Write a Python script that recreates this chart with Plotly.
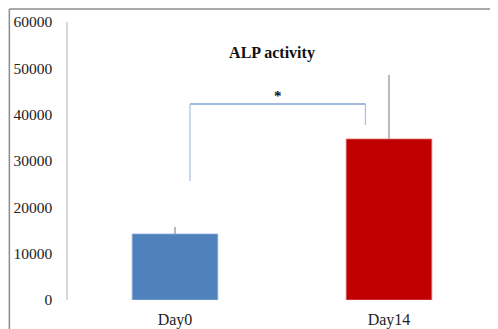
import plotly.graph_objects as go

categories = ["Day0", "Day14"]
values = [14250, 34750]
errors_up = [1500, 13800]
bar_colors = ["#4f81bd", "#c00000"]
y_ticks = [0, 10000, 20000, 30000, 40000, 50000, 60000]

# significance bracket (data units)
bracket_x = [0.07, 0.89]
bracket_top = 42300
bracket_left_bottom = 25700
bracket_right_bottom = 37800
sig_label = "*"

W, H = 490, 321  # page body has an 8px margin

fig = go.Figure()
fig.add_trace(go.Bar(
    x=[0, 1], y=values,
    marker=dict(color=bar_colors, line=dict(color=["#8fb0d8", "#e07070"], width=0.8)),
    width=0.4,
    error_y=dict(type="data", symmetric=False, array=errors_up, arrayminus=[0, 0],
                 color="#8c8c8c", thickness=1.2, width=0),
    showlegend=False,
))

serif = "Liberation Serif, Times New Roman, serif"
bcol = "#a9c4e6"
fig.add_shape(type="line", xref="x", yref="y", x0=bracket_x[0], x1=bracket_x[1],
              y0=bracket_top, y1=bracket_top, line=dict(color="#7fa3d0", width=1.3))
fig.add_shape(type="line", xref="x", yref="y", x0=bracket_x[0], x1=bracket_x[0],
              y0=bracket_left_bottom, y1=bracket_top, line=dict(color=bcol, width=1.3))
fig.add_shape(type="line", xref="x", yref="y", x0=bracket_x[1], x1=bracket_x[1],
              y0=bracket_right_bottom, y1=bracket_top, line=dict(color=bcol, width=1.3))
fig.add_annotation(x=(bracket_x[0] + bracket_x[1]) / 2, y=bracket_top, text="<b>" + sig_label + "</b>",
                   showarrow=False, yanchor="bottom", yshift=-2,
                   font=dict(family=serif, size=15, color="#111111"))

# outer frame lines (top and left)
fig.add_shape(type="line", xref="paper", yref="paper", x0=-0.137, x1=1.01, y0=1.047, y1=1.047,
              line=dict(color="#8c8c8c", width=1.5))
fig.add_shape(type="line", xref="paper", yref="paper", x0=-0.137, x1=-0.137, y0=-0.11, y1=1.047,
              line=dict(color="#8c8c8c", width=1.5))

fig.update_layout(
    width=W, height=H,
    margin=dict(l=60, r=2, t=14, b=29),
    paper_bgcolor="white", plot_bgcolor="white",
    title=dict(text="<b>ALP activity</b>", x=264 / W, xanchor="center", y=1 - 44 / H, yanchor="middle",
               font=dict(family=serif, size=16, color="#111111")),
    font=dict(family=serif, size=15, color="#222222"),
    bargap=0.6,
)
fig.update_xaxes(
    range=[-0.5, 1.5], tickvals=[0, 1], ticktext=categories, showline=False,
    showgrid=False, zeroline=False, ticks="", ticklabelstandoff=8, automargin=False,
    tickfont=dict(family=serif, size=16, color="#222222"),
)
fig.update_yaxes(
    range=[0, 60000], tickvals=y_ticks, ticktext=[str(v) for v in y_ticks],
    showgrid=False, zeroline=False, showline=True, linecolor="#d9d9d9", linewidth=1.5,
    ticks="", ticklabelstandoff=11, automargin=False,
    tickfont=dict(family=serif, size=15.5, color="#222222"),
)

fig.write_html("out.html")
